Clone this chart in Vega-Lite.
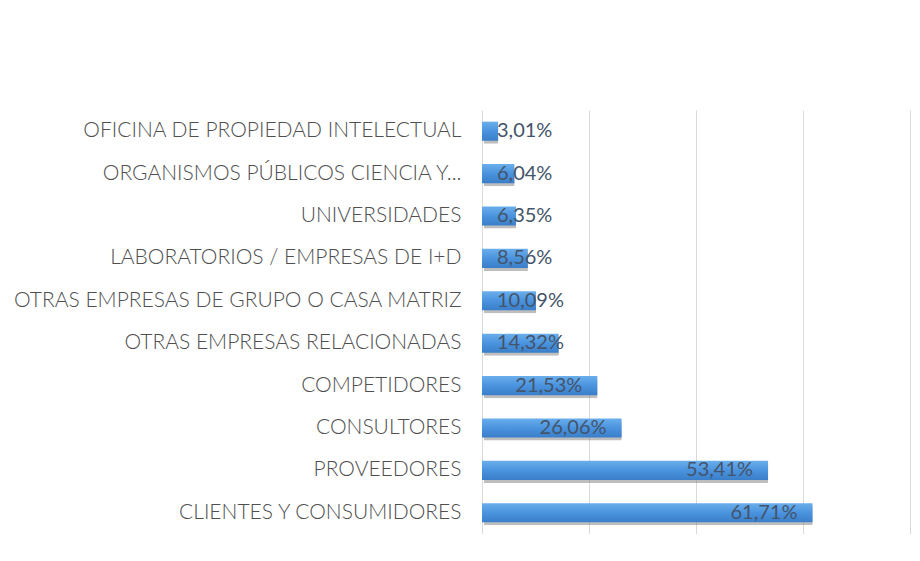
{
  "$schema": "https://vega.github.io/schema/vega-lite/v6.json",
  "width": 429,
  "height": 424,
  "autosize": {"type": "none"},
  "padding": {"left": 482, "top": 110, "right": 0, "bottom": 0},
  "background": "white",
  "config": {
    "view": {"stroke": null},
    "locale": {"number": {"decimal": ",", "thousands": ".", "grouping": [3], "currency": ["", " €"]}},
    "font": "Lato"
  },
  "data": {
    "values": [
      {"categoria": "OFICINA DE PROPIEDAD INTELECTUAL", "valor": 0.0301},
      {"categoria": "ORGANISMOS PÚBLICOS CIENCIA Y...", "valor": 0.0604},
      {"categoria": "UNIVERSIDADES", "valor": 0.0635},
      {"categoria": "LABORATORIOS / EMPRESAS DE I+D", "valor": 0.0856},
      {"categoria": "OTRAS EMPRESAS DE GRUPO O CASA MATRIZ", "valor": 0.1009},
      {"categoria": "OTRAS EMPRESAS RELACIONADAS", "valor": 0.1432},
      {"categoria": "COMPETIDORES", "valor": 0.2153},
      {"categoria": "CONSULTORES", "valor": 0.2606},
      {"categoria": "PROVEEDORES", "valor": 0.5341},
      {"categoria": "CLIENTES Y CONSUMIDORES", "valor": 0.6171}
    ]
  },
  "encoding": {
    "y": {
      "field": "categoria",
      "type": "nominal",
      "sort": null,
      "scale": {"paddingInner": 0.55, "paddingOuter": 0.275},
      "axis": {
        "title": null,
        "domain": false,
        "ticks": false,
        "labelFontSize": 21,
        "labelFontWeight": 300,
        "labelColor": "#4F4F4F",
        "labelPadding": 21,
        "labelLimit": 480
      }
    }
  },
  "layer": [
    {
      "mark": {"type": "bar", "color": "#6f6f6f", "opacity": 0.45, "xOffset": 2, "yOffset": 3, "cornerRadius": 1},
      "encoding": {
        "x": {
          "field": "valor",
          "type": "quantitative",
          "scale": {"domain": [0, 0.801], "nice": false},
          "axis": {
            "title": null,
            "labels": false,
            "labelOverlap": false,
            "ticks": false,
            "domain": false,
            "grid": true,
            "gridColor": "#D9D9D9",
            "gridWidth": 1,
            "values": [0, 0.2, 0.4, 0.6, 0.8]
          }
        }
      }
    },
    {
      "mark": {
        "type": "bar",
        "color": {
          "gradient": "linear",
          "x1": 0, "y1": 0, "x2": 0, "y2": 1,
          "stops": [
            {"offset": 0, "color": "#6AAEEB"},
            {"offset": 0.5, "color": "#4A93DE"},
            {"offset": 1, "color": "#3A7EC9"}
          ]
        }
      },
      "encoding": {
        "x": {"field": "valor", "type": "quantitative"}
      }
    },
    {
      "transform": [{"filter": "datum.valor < 0.18"}],
      "mark": {"type": "text", "align": "left", "baseline": "middle", "dx": 15, "fontSize": 20, "fontWeight": 400, "color": "#44546A"},
      "encoding": {
        "x": {"datum": 0, "type": "quantitative"},
        "text": {"field": "valor", "type": "quantitative", "format": ".2%"}
      }
    },
    {
      "transform": [{"filter": "datum.valor >= 0.18"}],
      "mark": {"type": "text", "align": "right", "baseline": "middle", "dx": -15, "fontSize": 20, "fontWeight": 400, "color": "#44546A"},
      "encoding": {
        "x": {"field": "valor", "type": "quantitative"},
        "text": {"field": "valor", "type": "quantitative", "format": ".2%"}
      }
    }
  ]
}
